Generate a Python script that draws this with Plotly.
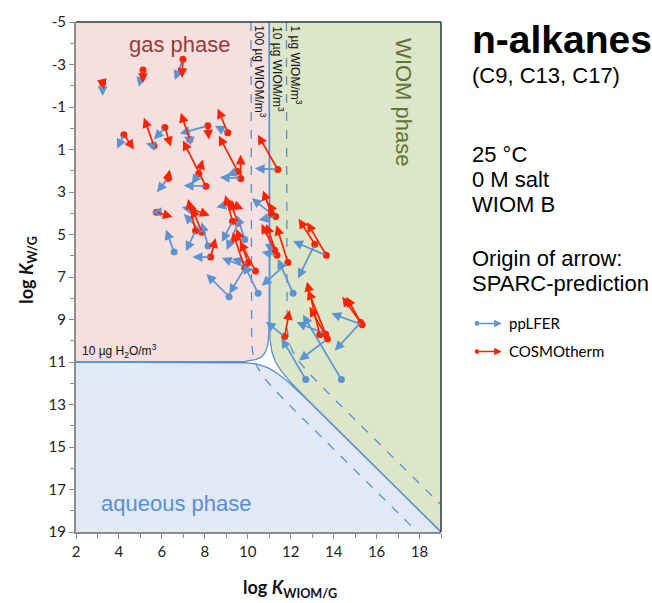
import math
import numpy as np
import plotly.graph_objects as go

# ---- chemical space: SPARC origin and the two alternative predictions ----
sparc_x = [3.24, 5.12, 6.98, 4.23, 5.63, 6.14, 7.30, 8.14, 9.07, 11.40,
           8.05, 7.72, 6.28, 9.67, 9.53, 5.75, 6.57, 7.57, 7.87, 7.43,
           8.15, 8.27, 9.13, 9.29, 9.20, 9.55, 9.86, 10.01, 10.36, 9.86,
           10.48, 11.10, 11.30, 11.26, 11.36, 11.87, 12.11, 13.12, 13.66, 11.72,
           12.70, 13.35, 13.63, 13.71, 14.36, 15.33, 15.26]
sparc_y = [-2.13, -2.74, -3.25, 0.30, 0.82, -0.03, 0.53, -0.12, 0.21, 1.94,
           2.73, 2.13, 2.36, 2.36, 2.03, 3.95, 5.82, 4.82, 4.89, 3.82,
           5.54, 6.06, 7.93, 4.38, 3.56, 4.46, 5.23, 6.34, 6.72, 6.57,
           7.77, 4.03, 4.15, 5.74, 5.98, 6.32, 7.77, 5.46, 5.98, 9.80,
           11.82, 9.72, 9.69, 9.92, 11.82, 9.25, 9.14]

pplfer_x = [3.24, 4.93, 6.60, 3.91, 5.26, 5.63, 7.02, 6.84, 8.47, 10.33,
            7.02, 7.40, 5.77, 8.70, 9.02, 5.53, 6.19, 7.12, 7.02, 6.93,
            7.84, 7.43, 8.08, 8.79, 8.54, 9.02, 9.49, 9.26, 8.79, 9.14,
            9.81, 10.19, 10.51, 10.79, 10.65, 10.65, 11.40, 12.34, 12.11, 10.84,
            11.57, 13.21, 12.27, 12.39, 12.57, 13.89, 14.05]
pplfer_y = [-1.52, -1.95, -2.27, 0.96, 0.72, 0.53, 0.40, 0.25, -0.12, 1.89,
            2.69, 2.64, 3.01, 2.31, 2.22, 3.95, 4.78, 5.79, 4.04, 3.72,
            4.42, 6.06, 6.86, 5.35, 3.72, 5.73, 4.09, 6.15, 6.10, 7.79,
            6.38, 3.29, 4.32, 5.43, 5.82, 7.41, 6.15, 7.07, 5.32, 9.10,
            9.88, 9.56, 9.13, 10.93, 8.78, 8.71, 10.47]

cosmo_x = [3.30, 5.12, 6.93, 4.70, 5.16, 6.42, 6.88, 8.19, 8.60, 10.47,
           6.98, 7.91, 6.37, 9.67, 8.65, 6.50, None, 7.22, 7.38, 8.23,
           None, 8.50, None, 8.95, 9.80, 9.14, None, 9.47, 9.63, 9.30,
           None, 10.71, 10.95, 10.64, 10.86, 11.33, None, 12.37, 12.76, 11.95,
           None, 12.76, 12.80, 12.88, None, 14.40, 14.59]
cosmo_y = [-1.85, -2.13, -2.37, 1.00, -0.49, 0.86, -0.73, 0.53, -0.92, 0.30,
           0.58, 1.47, 1.94, 1.24, 0.35, 4.18, None, 3.33, 3.72, 4.10,
           None, 5.17, None, 3.15, 3.80, 3.39, None, 4.73, 5.31, 4.89,
           None, 2.93, 3.48, 4.50, 4.50, 4.57, None, 4.26, 4.42, 8.55,
           None, 7.22, 7.61, 8.40, None, 7.93, 7.93]

# ---- phase-boundary parameters (log of inverse volume fractions) ----
LOG_WATER = 11.0   # 10 ug H2O / m3
LOG_WIOM = 11.0    # 10 ug WIOM / m3
# alternative WIOM loadings: (vertical asymptote, knee position)
WIOM_100 = (10.15, 11.25)
WIOM_1 = (11.80, 10.52)

X_RANGE = [2, 19]
Y_RANGE = [19, -5]
X_TICKS = list(range(2, 19, 2))
Y_TICKS = list(range(-5, 20, 2))

C_PINK = "#F4E0DE"
C_GREEN = "#DEE6C9"
C_BLUE = "#E0E9F4"
C_LINE = "#5B8FD0"
C_ARROW_BLUE = "#5B93D3"
C_ARROW_RED = "#FF2200"

LN10 = math.log(10.0)

# gas-phase boundary: 10^(x-LO) + 10^(y-LW) = 1
s1 = np.linspace(X_RANGE[0] - LOG_WIOM, -0.30103, 200)
gx1 = LOG_WIOM + s1
gy1 = LOG_WATER + np.log10(-np.expm1(s1 * LN10))
s2 = np.linspace(-0.30103, Y_RANGE[1] - LOG_WATER - 0.5, 300)
gy2 = LOG_WATER + s2
gx2 = LOG_WIOM + np.log10(-np.expm1(s2 * LN10))
gas_x = np.concatenate([gx1, gx2[1:]])
gas_y = np.concatenate([gy1, gy2[1:]])

# aqueous boundary
aq_x = np.linspace(X_RANGE[0], X_RANGE[1], 400)
aq_y = LOG_WATER + np.log10(1 + 10 ** (aq_x - LOG_WIOM))

# WIOM boundary
om_y = np.linspace(Y_RANGE[1], Y_RANGE[0], 400)
om_x = LOG_WIOM + np.log10(1 + 10 ** (om_y - LOG_WATER))


def wiom_curve(params):
    c, k = params
    yy = np.linspace(-5, 21, 400)
    return c + np.log10(1 + 10 ** (yy - k)), yy


fig = go.Figure()

# phase fills
pink_x = [X_RANGE[0]] + list(gas_x) + [X_RANGE[0]]
pink_y = [Y_RANGE[1]] + list(gas_y) + [Y_RANGE[1]]
fig.add_trace(go.Scatter(x=pink_x, y=pink_y, fill="toself", fillcolor=C_PINK,
                         mode="none", hoverinfo="skip"))
blue_x = [X_RANGE[0]] + list(aq_x) + [X_RANGE[1], X_RANGE[0]]
blue_y = [aq_y[0]] + list(aq_y) + [Y_RANGE[0], Y_RANGE[0]]
fig.add_trace(go.Scatter(x=blue_x, y=blue_y, fill="toself", fillcolor=C_BLUE,
                         mode="none", hoverinfo="skip"))
green_x = list(om_x) + [X_RANGE[1], X_RANGE[1]]
green_y = list(om_y) + [Y_RANGE[0], Y_RANGE[1]]
fig.add_trace(go.Scatter(x=green_x, y=green_y, fill="toself", fillcolor=C_GREEN,
                         mode="none", hoverinfo="skip"))

# boundary lines
for bx, by in [(gas_x, gas_y), (aq_x, aq_y), (om_x, om_y)]:
    fig.add_trace(go.Scatter(x=bx, y=by, mode="lines",
                             line=dict(color=C_LINE, width=1.3), hoverinfo="skip"))
for p in (WIOM_100, WIOM_1):
    dx, dy = wiom_curve(p)
    fig.add_trace(go.Scatter(x=dx, y=dy, mode="lines",
                             line=dict(color=C_LINE, width=1.3, dash="dash"),
                             hoverinfo="skip"))

# origin dots
dot_col = [C_ARROW_BLUE if cx is None else C_ARROW_RED for cx in cosmo_x]
fig.add_trace(go.Scatter(x=sparc_x, y=sparc_y, mode="markers",
                         marker=dict(size=7, color=dot_col, line=dict(width=0)),
                         hoverinfo="skip"))

annotations = []


def arrow(x0, y0, x1, y1, color):
    return dict(x=x1, y=y1, ax=x0, ay=y0, xref="x", yref="y", axref="x", ayref="y",
                text="", showarrow=True, arrowhead=2, arrowsize=1.15,
                arrowwidth=1.7, arrowcolor=color, standoff=0, startstandoff=0)


for i in range(len(sparc_x)):
    annotations.append(arrow(sparc_x[i], sparc_y[i], pplfer_x[i], pplfer_y[i], C_ARROW_BLUE))
for i in range(len(sparc_x)):
    if cosmo_x[i] is not None:
        annotations.append(arrow(sparc_x[i], sparc_y[i], cosmo_x[i], cosmo_y[i], C_ARROW_RED))


def label(x, y, text, size, color, angle=0, xanchor="center", ref=("x", "y"), family="Liberation Sans"):
    return dict(x=x, y=y, xref=ref[0], yref=ref[1], text=text, showarrow=False,
                textangle=angle, xanchor=xanchor, yanchor="middle",
                font=dict(family=family, size=size, color=color))


# phase labels
annotations += [
    label(6.84, -3.92, "gas phase", 22, "#9B3B3B"),
    label(6.68, 17.64, "aqueous phase", 22, "#5B8FD0"),
    label(17.22, -1.24, "WIOM phase", 22, "#5E7334", angle=90),
    label(10.56, -2.65, "100 µg WIOM/m<sup>3</sup>", 12, "#111", angle=90),
    label(11.40, -2.79, "10 µg WIOM/m<sup>3</sup>", 12, "#111", angle=90),
    label(12.23, -2.97, "1 µg WIOM/m<sup>3</sup>", 12, "#111", angle=90),
    label(2.2, 10.5, "10 µg H<sub>2</sub>O/m<sup>3</sup>", 12, "#111", xanchor="left"),
]

# axis titles
annotations += [
    label(0.586, -0.110, "<b>log <i>K</i><sub>WIOM/G</sub></b>", 18, "#111",
          ref=("paper", "paper"), family="Lato"),
    label(-0.132, 0.514, "<b>log <i>K</i><sub>W/G</sub></b>", 18, "#111", angle=-90,
          ref=("paper", "paper"), family="Lato"),
]

# side panel text
side_x = 1.0795
side = [("<b>n-alkanes</b>", 0.966, 39), ("(C9, C13, C17)", 0.896, 22),
        ("25 °C", 0.7407, 22), ("0 M salt", 0.692, 22), ("WIOM B", 0.643, 22),
        ("Origin of arrow:", 0.536, 22), ("SPARC-prediction", 0.487, 22)]
for txt, yy, sz in side:
    annotations.append(label(side_x, yy, txt, sz, "#000", xanchor="left",
                             ref=("paper", "paper")))

# legend
leg = [("ppLFER", C_ARROW_BLUE, 0.409), ("COSMOtherm", C_ARROW_RED, 0.354)]
shapes = []
for name, col, yy in leg:
    xh = (501.7 - 76) / 365
    annotations.append(dict(x=xh, y=yy, xref="paper", yref="paper", ax=-24, ay=0,
                            text="", showarrow=True, arrowhead=2, arrowsize=1.0,
                            arrowwidth=1.5, arrowcolor=col, standoff=0))
    annotations.append(label((506.7 - 76) / 365, yy, name, 15, "#000", xanchor="left",
                             ref=("paper", "paper"), family="Lato"))
    xc = (477 - 76) / 365
    shapes.append(dict(type="circle", xref="paper", yref="paper",
                       x0=xc - 2.3 / 365, x1=xc + 2.3 / 365,
                       y0=yy - 2.3 / 513, y1=yy + 2.3 / 513,
                       fillcolor=col, line=dict(width=0)))

# dark frame on top and right
shapes += [
    dict(type="line", xref="paper", yref="paper", x0=0, x1=1, y0=1, y1=1,
         line=dict(color="#2B3844", width=1.5)),
    dict(type="line", xref="paper", yref="paper", x0=1, x1=1, y0=0, y1=1,
         line=dict(color="#2B3844", width=1.5)),
]

tickfont = dict(family="Lato", size=15, color="#222")
fig.update_layout(
    width=652, height=603,
    margin=dict(l=76, r=211, t=19, b=71),
    plot_bgcolor="white", paper_bgcolor="white",
    showlegend=False,
    annotations=annotations,
    shapes=shapes,
    xaxis=dict(range=X_RANGE, tickvals=X_TICKS, ticktext=[str(v) for v in X_TICKS],
               ticks="outside", ticklen=5, tickcolor="#8C8C8C", showline=True,
               linecolor="#8C8C8C", linewidth=2, showgrid=False, zeroline=False,
               tickfont=tickfont,
               minor=dict(tickvals=list(range(3, 20, 2)), ticks="outside", ticklen=4,
                          tickcolor="#8C8C8C", showgrid=False)),
    yaxis=dict(range=Y_RANGE, tickvals=Y_TICKS, ticktext=[str(v) for v in Y_TICKS],
               ticks="outside", ticklen=5, tickcolor="#8C8C8C", showline=True,
               linecolor="#8C8C8C", linewidth=2, showgrid=False, zeroline=False,
               tickfont=tickfont,
               minor=dict(tickvals=list(range(-4, 20, 2)), ticks="outside", ticklen=4,
                          tickcolor="#8C8C8C", showgrid=False)),
)

fig.write_html("out.html")
